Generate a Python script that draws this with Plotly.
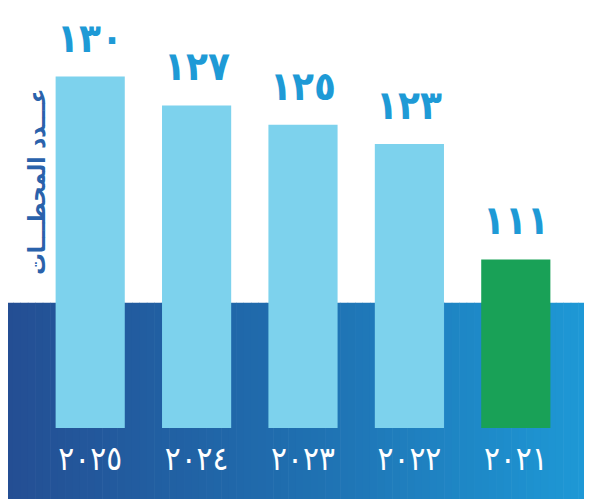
import plotly.graph_objects as go

# ---- data ----
years = ["٢٠٢٥", "٢٠٢٤", "٢٠٢٣", "٢٠٢٢", "٢٠٢١"]
stations = [130, 127, 125, 123, 111]
value_labels = ["١٣٠", "١٢٧", "١٢٥", "١٢٣", "١١١"]
y_title = "عـــدد المحطـــات"

# ---- styles ----
bar_colors = ["#7dd2ed", "#7dd2ed", "#7dd2ed", "#7dd2ed", "#19a157"]
label_blue = "#1e9ad6"
title_blue = "#2a62ab"
FONT = "DejaVu Sans Condensed, DejaVu Sans, sans-serif"

W, H = 592, 499
OFF = 8  # page body margin of the browser
ML, MR, MT, MB = 29.4, 31.4, 0, 78.5
PW, PH = W - ML - MR, H - MT - MB


def px_to_paper_x(px):
    # px given in window coordinates
    return (px - OFF - ML) / PW


def px_to_paper_y(py):
    return (H - MB - (py - OFF)) / PH


def lerp_color(stops, t):
    for (t0, c0), (t1, c1) in zip(stops[:-1], stops[1:]):
        if t0 <= t <= t1:
            f = (t - t0) / (t1 - t0) if t1 > t0 else 0
            a = [int(c0[i:i + 2], 16) for i in (1, 3, 5)]
            b = [int(c1[i:i + 2], 16) for i in (1, 3, 5)]
            return "rgb(%d,%d,%d)" % tuple(round(a[k] + (b[k] - a[k]) * f) for k in range(3))
    return stops[-1][1]


grad_stops = [(0.0, "#244e93"), (0.5, "#1f6fb0"), (1.0, "#1e9bd8")]

fig = go.Figure()
fig.add_trace(go.Bar(
    x=years, y=stations,
    marker=dict(color=bar_colors, line=dict(width=0)),
    width=0.65,
    hoverinfo="skip",
))

# value labels above bars
for yr, v, lab in zip(years, stations, value_labels):
    fig.add_annotation(
        x=yr, y=v, xref="x", yref="y", text="<b>%s</b>" % lab, showarrow=False,
        yanchor="bottom", yshift=14,
        font=dict(family=FONT, size=40, color=label_blue),
    )

# gradient band (decorative background)
shapes = []
N = 80
bx0, bx1, by0, by1 = 6, 600, 303, 510
for i in range(N):
    x0 = bx0 + (bx1 - bx0) * i / N
    x1 = bx0 + (bx1 - bx0) * (i + 1) / N + 0.6
    shapes.append(dict(
        type="rect", xref="paper", yref="paper", layer="below",
        x0=px_to_paper_x(x0), x1=px_to_paper_x(min(x1, bx1)),
        y0=px_to_paper_y(by1), y1=px_to_paper_y(by0),
        fillcolor=lerp_color(grad_stops, (i + 0.5) / N),
        line=dict(width=0),
    ))

fig.add_annotation(
    x=px_to_paper_x(22), y=px_to_paper_y(181.5), xref="paper", yref="paper",
    text="<b>%s</b>" % y_title, textangle=-90, showarrow=False,
    font=dict(family=FONT, size=24, color=title_blue),
)

fig.update_layout(
    width=W, height=H,
    margin=dict(l=ML, r=MR, t=MT, b=MB, pad=0),
    paper_bgcolor="white", plot_bgcolor="rgba(0,0,0,0)",
    shapes=shapes, showlegend=False,
    xaxis=dict(type="category", showgrid=False, zeroline=False, showline=False,
               ticks="", tickfont=dict(family=FONT, size=33, color="white"),
               ticklabelstandoff=8),
    yaxis=dict(range=[93.49, 93.49 + PH / 9.637], visible=False, showgrid=False),
)

fig.write_html("out.html")
